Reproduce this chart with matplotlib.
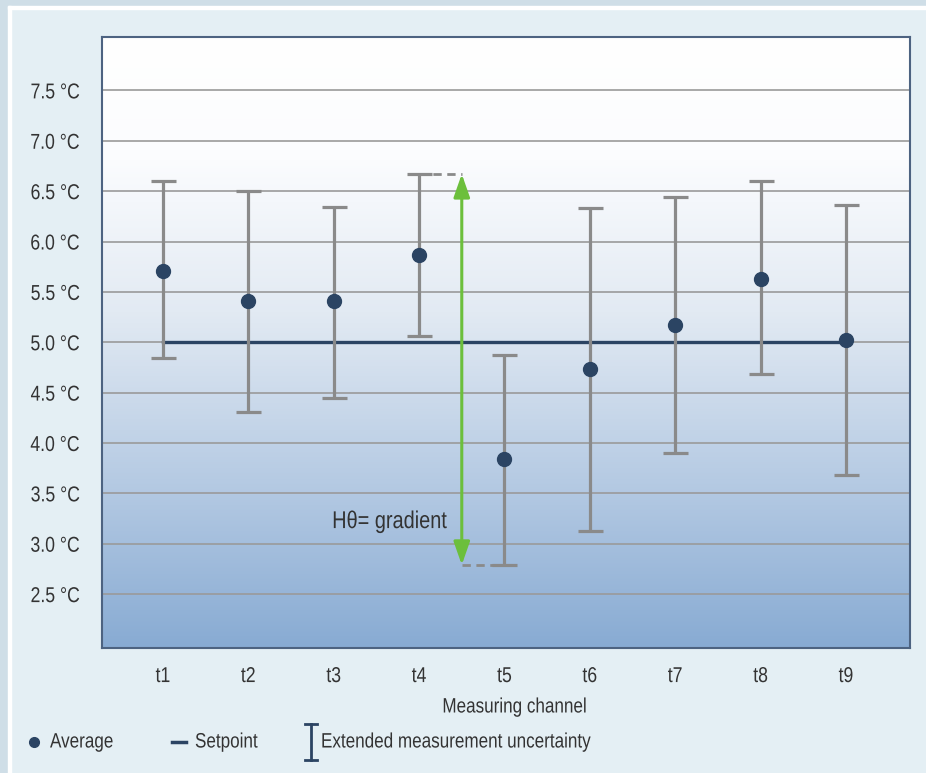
import numpy as np
import matplotlib as mpl
mpl.use("Agg")
import matplotlib.pyplot as plt
from matplotlib.colors import LinearSegmentedColormap
from matplotlib.lines import Line2D
from matplotlib.patches import Rectangle
from matplotlib.patheffects import AbstractPathEffect
from matplotlib.transforms import Affine2D

plt.rcParams['font.family'] = ['Liberation Sans', 'DejaVu Sans']

channels = ["t1", "t2", "t3", "t4", "t5", "t6", "t7", "t8", "t9"]
average = [5.71, 5.41, 5.41, 5.87, 3.84, 4.73, 5.17, 5.63, 5.02]
upper = [6.60, 6.50, 6.34, 6.67, 4.87, 6.33, 6.44, 6.60, 6.36]
lower = [4.84, 4.31, 4.45, 5.06, 2.79, 3.13, 3.90, 4.68, 3.68]
setpoint = 5.0
yticks = [2.5, 3.0, 3.5, 4.0, 4.5, 5.0, 5.5, 6.0, 6.5, 7.0, 7.5]

navy = "#2b4463"
grey = "#8a8a8a"
green = "#6cbf3c"
txt = "#333333"
W, H = 926, 773


class Narrow(AbstractPathEffect):
    # squeeze glyphs horizontally (no condensed font installed)
    def __init__(self, sx=0.82, anchor="left"):
        super().__init__()
        self.sx = sx
        self.anchor = anchor

    def draw_path(self, renderer, gc, tpath, affine, rgbFace=None):
        ext = tpath.get_extents()
        if self.anchor == "center":
            cx = (ext.x0 + ext.x1) / 2
        elif self.anchor == "right":
            cx = ext.x1
        else:
            cx = 0
        t = Affine2D().translate(-cx, 0).scale(self.sx, 1).translate(cx, 0) + affine
        renderer.draw_path(gc, tpath, t, rgbFace)


fig = plt.figure(figsize=(9.26, 7.73), dpi=100)
fig.patch.set_facecolor("#e4eff4")

# outer frame strips
fig.add_artist(Rectangle((0, 0), 8 / W, 1, transform=fig.transFigure, color="#cfdee7", zorder=0))
fig.add_artist(Rectangle((0, 1 - 6 / H), 1, 6 / H, transform=fig.transFigure, color="#cfdee7", zorder=0))
fig.add_artist(Rectangle((8 / W, 0), 3 / W, 1 - 6 / H, transform=fig.transFigure, color="white", zorder=0))
fig.add_artist(Rectangle((8 / W, 1 - 9 / H), 1, 3 / H, transform=fig.transFigure, color="white", zorder=0))

ax = fig.add_axes([102 / W, (H - 648) / H, 808 / W, 611 / H])
x = np.arange(1, len(channels) + 1)
ax.set_xlim(0.286, 9.75)
ax.set_ylim(1.965, 8.03)

# background gradient
cmap = LinearSegmentedColormap.from_list("bg", [(0, "#88abd3"), (0.25, "#b2c8e2"),
                                                (0.55, "#e2eaf3"), (0.8, "#fbfcfe"), (1, "#ffffff")])
grad = np.linspace(0, 1, 256).reshape(-1, 1)
ax.imshow(grad, cmap=cmap, aspect="auto", origin="lower",
          extent=[0.286, 9.75, 1.965, 8.03], zorder=0)

for yt in yticks:
    ax.axhline(yt, color="#9a9a9a", lw=1.2, zorder=1)

ax.plot([1, 9], [setpoint, setpoint], color=navy, lw=2.4, zorder=2)

avg = np.array(average)
err = [avg - np.array(lower), np.array(upper) - avg]
ax.errorbar(x, avg, yerr=err, fmt="none", ecolor=grey, elinewidth=2.3,
            capsize=9, capthick=2.3, zorder=3)
ax.plot(x, avg, "o", color=navy, ms=10, zorder=4)

# gradient arrow between t4 top and t5 bottom
ax.plot([4, 4.5], [upper[3], upper[3]], ls=(0, (3, 2)), color=grey, lw=2, zorder=3)
ax.plot([4.5, 5], [lower[4], lower[4]], ls=(0, (3, 2)), color=grey, lw=2, zorder=3)
ax.annotate("", xy=(4.5, upper[3]), xytext=(4.5, lower[4]),
            arrowprops=dict(arrowstyle="<|-|>,head_length=1.0,head_width=0.35", color=green, lw=2.2,
                            mutation_scale=14, shrinkA=0, shrinkB=0), zorder=5)
ax.text(4.32, 3.22, "H\u03b8= gradient", ha="right", va="center", fontsize=17.5, color=txt,
        path_effects=[Narrow(anchor="right")])

ax.set_xticks(x)
ax.set_xticklabels(channels)
ax.set_yticks(yticks)
ax.set_yticklabels([f"{v:.1f} °C" for v in yticks])
ax.tick_params(axis="both", length=0, labelsize=15.5, labelcolor=txt)
ax.tick_params(axis="y", pad=16)
ax.tick_params(axis="x", pad=13)
for lab in ax.get_yticklabels():
    lab.set_path_effects([Narrow(anchor="right")])
for lab in ax.get_xticklabels():
    lab.set_path_effects([Narrow(anchor="center")])
for s in ax.spines.values():
    s.set_color("#4d6381")
    s.set_linewidth(1.5)

fig.text(515 / W, 1 - 707 / H, "Measuring channel", ha="center", va="center", fontsize=15, color=txt,
         path_effects=[Narrow(anchor="center")])

# legend
ly = 1 - 742 / H
fig.add_artist(Line2D([34 / W], [ly], marker="o", color=navy, ms=7, transform=fig.transFigure))
fig.text(50 / W, ly, "Average", ha="left", va="center", fontsize=15, color=txt,
         path_effects=[Narrow()])
fig.add_artist(Line2D([172 / W, 186 / W], [ly, ly], color=navy, lw=2.5, transform=fig.transFigure))
fig.text(195 / W, ly, "Setpoint", ha="left", va="center", fontsize=15, color=txt,
         path_effects=[Narrow()])
fig.add_artist(Line2D([311 / W, 311 / W], [1 - 724 / H, 1 - 760 / H], color=navy, lw=2, transform=fig.transFigure))
fig.add_artist(Line2D([305 / W, 317 / W], [1 - 724 / H, 1 - 724 / H], color=navy, lw=2, transform=fig.transFigure))
fig.add_artist(Line2D([305 / W, 317 / W], [1 - 760 / H, 1 - 760 / H], color=navy, lw=2, transform=fig.transFigure))
fig.text(321 / W, ly, "Extended measurement uncertainty", ha="left", va="center", fontsize=15, color=txt,
         path_effects=[Narrow()])

fig.savefig("out.png", dpi=100, facecolor=fig.get_facecolor())
